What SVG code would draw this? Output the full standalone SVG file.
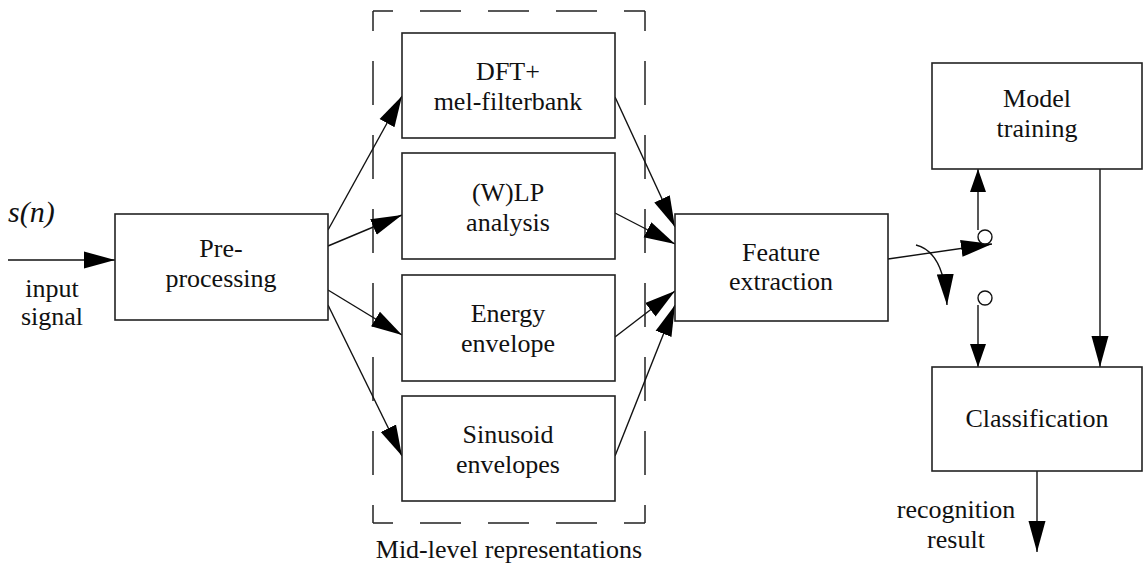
<svg xmlns="http://www.w3.org/2000/svg" width="1144" height="563" viewBox="0 0 1144 563">
<style>
.box{fill:#fff;stroke:#222;stroke-width:1.6}
.t{font-family:"Liberation Serif","Times New Roman",serif;font-size:26px;fill:#111;text-anchor:middle}
.c{stroke:#111;stroke-width:1.4;fill:none}
.a{marker-end:url(#ah)}
.s{marker-end:url(#ahs)}
.d{stroke:#222;stroke-width:1.5;fill:none}
</style>
<defs>
<marker id="ah" markerUnits="userSpaceOnUse" markerWidth="32" markerHeight="20" viewBox="0 0 32 20" refX="31" refY="10" orient="auto">
<path d="M0,1.5 L31,10 L0,18.5 z" fill="#000"/>
</marker>
<marker id="ahs" markerUnits="userSpaceOnUse" markerWidth="24" markerHeight="20" viewBox="0 0 24 20" refX="23" refY="10" orient="auto">
<path d="M0,2 L23,10 L0,18 z" fill="#000"/>
</marker>
</defs>
<rect width="1144" height="563" fill="#fff"/>
<g id="midlevel-frame">
<path class="d" d="M373,11 H645" stroke-dasharray="20 27 41 27 41 27 41 27 21"/>
<path class="d" d="M373,523 H645" stroke-dasharray="20 27 41 27 41 27 41 27 21"/>
<path class="d" d="M373,11 V523" stroke-dasharray="20 30 44 30 44 30 44 30 44 30 44 30 44 30 18"/>
<path class="d" d="M645,11 V523" stroke-dasharray="20 30 44 30 44 30 44 30 44 30 44 30 44 30 18"/>
<text class="t" x="509" y="558">Mid-level representations</text>
</g>
<g id="connectors">
<line class="c a" x1="8" y1="260" x2="115" y2="260"/>
<line class="c a" x1="328" y1="230" x2="402" y2="96"/>
<line class="c a" x1="328" y1="246" x2="402" y2="215"/>
<line class="c a" x1="328" y1="290" x2="402" y2="335"/>
<line class="c a" x1="328" y1="305" x2="402" y2="456"/>
<line class="c a" x1="615" y1="97" x2="675" y2="227"/>
<line class="c a" x1="615" y1="213" x2="675" y2="244"/>
<line class="c a" x1="615" y1="337" x2="675" y2="291"/>
<line class="c a" x1="615" y1="456" x2="675" y2="305"/>
<line class="c a" x1="888" y1="259" x2="992" y2="244"/>
<line class="c s" x1="978" y1="230" x2="978" y2="169"/>
<line class="c s" x1="978" y1="305" x2="978" y2="367"/>
<line class="c a" x1="1100" y1="169" x2="1100" y2="367"/>
<line class="c a" x1="1037" y1="471" x2="1037" y2="552"/>
<path class="c a" d="M916,245 Q944,252 947,305"/>
<circle cx="985" cy="237" r="7" fill="#fff" stroke="#111" stroke-width="1.4"/>
<circle cx="985" cy="298" r="7" fill="#fff" stroke="#111" stroke-width="1.4"/>
</g>
<g id="input-label">
<text x="8" y="222" style="font-family:'Liberation Serif','Times New Roman',serif;font-size:30px;font-style:italic;fill:#111">s(n)</text>
<text class="t" x="52" y="297">input</text>
<text class="t" x="52" y="325">signal</text>
</g>
<g id="preprocessing">
<rect class="box" x="115" y="214" width="213" height="106"/>
<text class="t" x="221" y="257">Pre-</text>
<text class="t" x="221" y="287">processing</text>
</g>
<g id="dft">
<rect class="box" x="402" y="33" width="213" height="105"/>
<text class="t" x="508" y="80">DFT+</text>
<text class="t" x="508" y="110">mel-filterbank</text>
</g>
<g id="wlp">
<rect class="box" x="402" y="153" width="213" height="106"/>
<text class="t" x="508" y="201">(W)LP</text>
<text class="t" x="508" y="231">analysis</text>
</g>
<g id="energy">
<rect class="box" x="402" y="275" width="213" height="106"/>
<text class="t" x="508" y="322">Energy</text>
<text class="t" x="508" y="352">envelope</text>
</g>
<g id="sinusoid">
<rect class="box" x="402" y="396" width="213" height="105"/>
<text class="t" x="508" y="443">Sinusoid</text>
<text class="t" x="508" y="473">envelopes</text>
</g>
<g id="feature">
<rect class="box" x="675" y="214" width="213" height="107"/>
<text class="t" x="781" y="261">Feature</text>
<text class="t" x="781" y="290">extraction</text>
</g>
<g id="model">
<rect class="box" x="932" y="63" width="210" height="106"/>
<text class="t" x="1037" y="107">Model</text>
<text class="t" x="1037" y="137">training</text>
</g>
<g id="classification">
<rect class="box" x="932" y="367" width="210" height="104"/>
<text class="t" x="1037" y="427">Classification</text>
</g>
<g id="output-label">
<text class="t" x="956" y="518">recognition</text>
<text class="t" x="956" y="548">result</text>
</g>
</svg>
